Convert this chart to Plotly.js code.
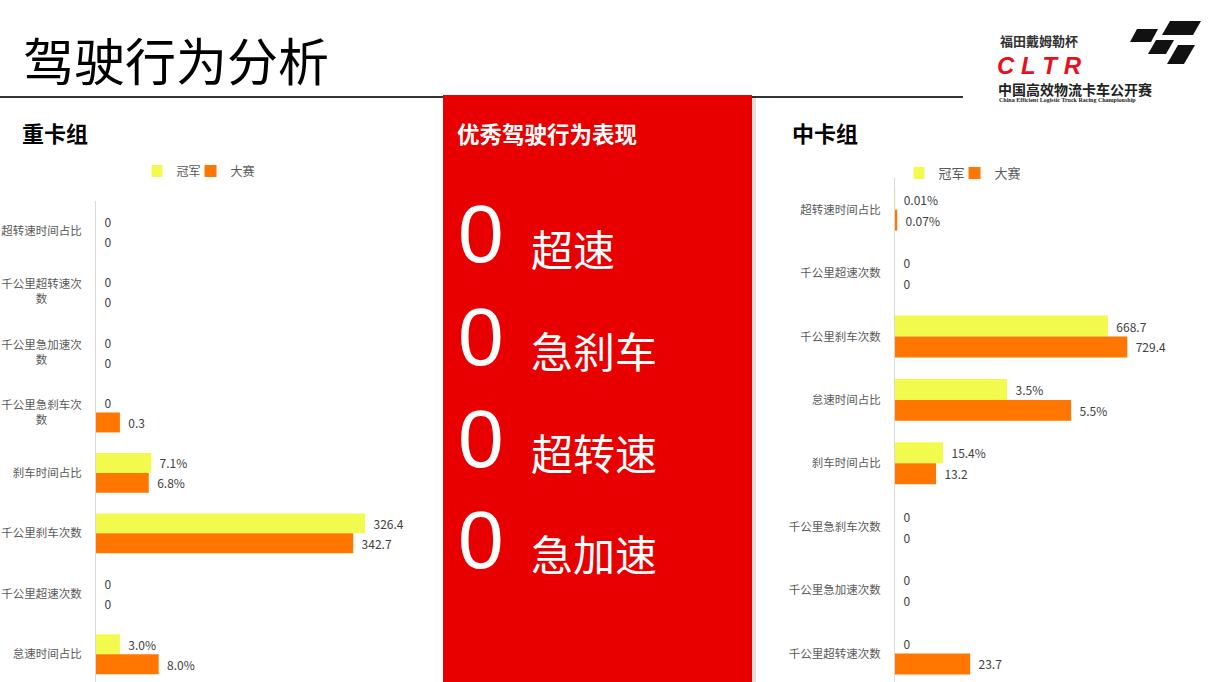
<!DOCTYPE html>
<html>
<head>
<meta charset="utf-8">
<script src="https://cdn.plot.ly/plotly-3.0.1.min.js"></script>
<style>
html,body{margin:0;padding:0;background:#fff;}
#chart{width:1215px;height:682px;}
</style>
</head>
<body>
<div id="chart"></div>
<script>
// ---------- data ----------
var seriesNames = ['冠军', '大赛'];

var heavyCats = ['超转速时间占比', '千公里超转速次<br>数\u3000\u3000\u3000', '千公里急加速次<br>数\u3000\u3000\u3000', '千公里急刹车次<br>数\u3000\u3000\u3000', '刹车时间占比', '千公里刹车次数', '千公里超速次数', '怠速时间占比'];
var heavyChamp = [0, 0, 0, 0, 67, 326.4, 0, 29];
var heavyRace = [0, 0, 0, 29, 64, 312, 0, 76];
var heavyChampLabels = ['0', '0', '0', '0', '7.1%', '326.4', '0', '3.0%'];
var heavyRaceLabels = ['0', '0', '0', '0.3', '6.8%', '342.7', '0', '8.0%'];

var mediumCats = ['超转速时间占比', '千公里超速次数', '千公里刹车次数', '怠速时间占比', '刹车时间占比', '千公里急刹车次数', '千公里急加速次数', '千公里超转速次数'];
var mediumChamp = [1, 0, 668.7, 352, 151, 0, 0, 0];
var mediumRace = [7, 0, 729.4, 553, 129, 0, 0, 236];
var mediumChampLabels = ['0.01%', '0', '668.7', '3.5%', '15.4%', '0', '0', '0'];
var mediumRaceLabels = ['0.07%', '0', '729.4', '5.5%', '13.2', '0', '0', '23.7'];

var pageTitle = '驾驶行为分析';
var heavyTitle = '重卡组';
var mediumTitle = '中卡组';
var panelTitle = '优秀驾驶行为表现';
var panelCounts = ['0', '0', '0', '0'];
var panelItems = ['超速', '急刹车', '超转速', '急加速'];

// ---------- styling ----------
var W = 1215, H = 682;
function px(x) { return x / W; }
function py(y) { return 1 - y / H; }
var CJK = '"Noto Sans CJK SC", "Microsoft YaHei", sans-serif';
var LAT = '"Liberation Sans", Arial, sans-serif';
var YELLOW = '#F3FA4E';
var ORANGE = '#FF7700';
var RED = '#E80000';
var pad = function (t) { return '\u00a0\u00a0' + t; };

function barTrace(cats, vals, labels, name, color, xa, ya, leg, show) {
  return {
    type: 'bar', orientation: 'h',
    y: cats, x: vals, name: name,
    text: labels.map(pad), textposition: 'outside', cliponaxis: false,
    constraintext: 'none',
    textfont: {family: CJK, size: 12, color: '#404040'},
    marker: {color: color},
    xaxis: xa, yaxis: ya, legend: leg, showlegend: show,
    hoverinfo: 'skip'
  };
}

var data = [
  barTrace(heavyCats, heavyChamp, heavyChampLabels, seriesNames[0], YELLOW, 'x', 'y', 'legend', true),
  barTrace(heavyCats, heavyRace, heavyRaceLabels, seriesNames[1], ORANGE, 'x', 'y', 'legend', true),
  barTrace(mediumCats, mediumChamp, mediumChampLabels, seriesNames[0], YELLOW, 'x2', 'y2', 'legend2', true),
  barTrace(mediumCats, mediumRace, mediumRaceLabels, seriesNames[1], ORANGE, 'x2', 'y2', 'legend2', true)
];

var yaxisCommon = {
  type: 'category', showgrid: false, zeroline: false,
  showline: true, linecolor: '#D9D9D9', linewidth: 1,
  ticks: '', ticklabelstandoff: 11,
  tickfont: {family: CJK, size: 11.5, color: '#595959'},
  fixedrange: true
};

var shapes = [];
// header rule
shapes.push({type: 'line', xref: 'paper', yref: 'paper', x0: px(0), x1: px(963), y0: py(97), y1: py(97),
  line: {color: '#333333', width: 2}});
// red panel shadow + panel
shapes.push({type: 'rect', xref: 'paper', yref: 'paper', x0: px(752), x1: px(756), y0: 0, y1: py(96),
  fillcolor: 'rgba(0,0,0,0.12)', line: {width: 0}});
shapes.push({type: 'rect', xref: 'paper', yref: 'paper', x0: px(443), x1: px(752), y0: 0, y1: py(95),
  fillcolor: RED, line: {width: 0}});
// logo chequered flag
function poly(pts) {
  return 'M' + pts.map(function (p) { return px(p[0]) + ',' + py(p[1]); }).join('L') + 'Z';
}
var flag = [
  [[1170, 21], [1201, 21], [1193, 35], [1162, 35]],
  [[1137, 29], [1158, 29], [1151, 42], [1130, 42]],
  [[1156, 40], [1174, 40], [1166, 54], [1148, 54]],
  [[1178, 45], [1195, 45], [1184, 64], [1167, 64]]
];
flag.forEach(function (f) {
  shapes.push({type: 'path', xref: 'paper', yref: 'paper', path: poly(f), fillcolor: '#111111', line: {width: 0}});
});

var annotations = [];
function ann(text, x, y, size, color, opts) {
  var a = {text: text, x: px(x), y: py(y), xref: 'paper', yref: 'paper', showarrow: false,
    xanchor: 'left', yanchor: 'middle', borderpad: 0, font: {family: CJK, size: size, color: color}};
  if (opts) { for (var k in opts) { a[k] = opts[k]; } }
  annotations.push(a);
}
ann(pageTitle, 22, 59, 51, '#000000');
ann('<b>' + heavyTitle + '</b>', 21, 132, 22, '#000000');
ann('<b>' + mediumTitle + '</b>', 791, 132, 22, '#000000');
ann('<b>' + panelTitle + '</b>', 456, 133, 22.5, '#FFFFFF');
var countY = [234, 336, 438, 539];
var itemY = [247, 349, 451, 552];
panelCounts.forEach(function (c, i) {
  ann(c, 457, countY[i], 82, '#FFFFFF', {font: {family: LAT, size: 82, color: '#FFFFFF'}});
  ann(panelItems[i], 530, itemY[i], 42, '#FFFFFF');
});
// logo texts
ann('<b>福田戴姆勒杯</b>', 999, 41, 13, '#333333');
ann('<b><i>C\u00a0L\u00a0T\u00a0R</i></b>', 996, 65, 24, '#E8101A',
  {font: {family: LAT, size: 24, color: '#E8101A'}});
ann('<b>中国高效物流卡车公开赛</b>', 997, 89, 14, '#222222');
ann('<b>China Efficient Logistic Truck Racing Championship</b>', 998, 100, 6, '#222222',
  {font: {family: 'Liberation Serif, serif', size: 6, color: '#222222'}});

var legendCommon = {orientation: 'h', xanchor: 'center', yanchor: 'middle', indentation: -15,
  bgcolor: 'rgba(0,0,0,0)', itemclick: false, itemdoubleclick: false, traceorder: 'normal'};

var layout = {
  width: W, height: H,
  margin: {l: 0, r: 0, t: 0, b: 0},
  paper_bgcolor: '#FFFFFF', plot_bgcolor: 'rgba(0,0,0,0)',
  barmode: 'group', bargap: 0.34, bargroupgap: 0,
  showlegend: true,
  xaxis: {domain: [px(96), px(420)], range: [0, 393], visible: false, fixedrange: true},
  yaxis: Object.assign({}, yaxisCommon, {domain: [0, py(201)], range: [7.46, -0.5], anchor: 'x'}),
  xaxis2: {domain: [px(895), px(1195)], range: [0, 942], visible: false, fixedrange: true, anchor: 'y2'},
  yaxis2: Object.assign({}, yaxisCommon, {domain: [0, py(178)], range: [7.45, -0.5], anchor: 'x2'}),
  legend: Object.assign({}, legendCommon, {x: px(206), y: py(171),
    font: {family: CJK, size: 12, color: '#595959'}}),
  legend2: Object.assign({}, legendCommon, {x: px(970), y: py(173),
    font: {family: CJK, size: 13, color: '#595959'}}),
  shapes: shapes,
  annotations: annotations
};

Plotly.newPlot('chart', data, layout, {staticPlot: true, displayModeBar: false});
</script>
</body>
</html>
